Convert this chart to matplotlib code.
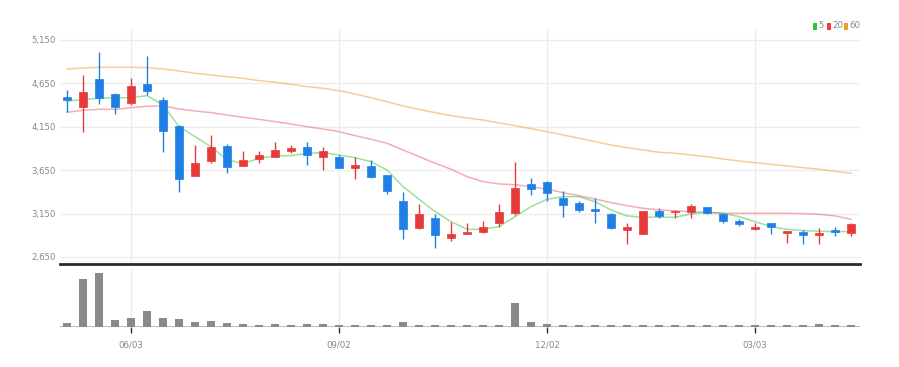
import numpy as np
import matplotlib
matplotlib.use('Agg')
import matplotlib.pyplot as plt
from matplotlib.patches import Rectangle
from matplotlib import font_manager

# narrow font if one is around, else plain sans
narrow = None
for f in font_manager.fontManager.ttflist:
    if 'Narrow' in f.name or 'Condensed' in f.name:
        narrow = f.name
        break
    if f.stretch in ('condensed', 'semi-condensed') and f.name in ('DejaVu Sans', 'Open Sans', 'Noto Sans'):
        narrow = f.name
        break
if narrow:
    plt.rcParams['font.family'] = [narrow, 'DejaVu Sans']
    plt.rcParams['font.stretch'] = 'condensed'
else:
    plt.rcParams['font.family'] = ['Liberation Sans', 'DejaVu Sans']

# weekly candles (open, high, low, close)
opens  = [4493, 4375, 4701, 4531, 4424, 4647, 4455, 4159, 3583, 3752,
          3933, 3702, 3776, 3806, 3875, 3921, 3806, 3799, 3675, 3698,
          3598, 3295, 2981, 3096, 2873, 2915, 2942, 3046, 3161, 3491,
          3514, 3333, 3269, 3203, 3142, 2965, 2919, 3180, 3165, 3172,
          3222, 3146, 3069, 2973, 3038, 2923, 2935, 2900, 2961, 2931]
highs  = [4571, 4747, 5015, 4540, 4716, 4966, 4497, 4165, 3940, 4052,
          3952, 3875, 3875, 3975, 3940, 3979, 3921, 3829, 3806, 3768,
          3600, 3395, 3261, 3142, 3057, 3046, 3069, 3261, 3748, 3557,
          3520, 3407, 3299, 3326, 3161, 3038, 3180, 3211, 3192, 3257,
          3230, 3161, 3090, 3046, 3046, 2946, 2961, 2981, 3000, 3046]
lows   = [4324, 4094, 4413, 4294, 4401, 4516, 3863, 3402, 3583, 3737,
          3614, 3695, 3730, 3800, 3845, 3710, 3652, 3670, 3549, 3560,
          3376, 2857, 2975, 2750, 2838, 2910, 2923, 3000, 3134, 3364,
          3299, 3115, 3172, 3046, 2969, 2796, 2915, 3096, 3096, 3103,
          3150, 3038, 3010, 2961, 2915, 2815, 2800, 2796, 2892, 2892]
closes = [4455, 4554, 4482, 4378, 4620, 4559, 4105, 3549, 3737, 3917,
          3687, 3771, 3825, 3883, 3902, 3829, 3875, 3675, 3707, 3568,
          3414, 2973, 3146, 2904, 2912, 2942, 3000, 3169, 3442, 3434,
          3384, 3253, 3192, 3180, 2981, 2992, 3177, 3123, 3180, 3241,
          3161, 3069, 3027, 3000, 2992, 2946, 2900, 2927, 2942, 3027]

# volume (thousand shares)
volumes = [44, 490, 547, 74, 94, 160, 94, 80, 47, 64,
           44, 30, 24, 30, 24, 34, 34, 24, 24, 24,
           24, 47, 24, 24, 18, 18, 18, 24, 240, 47,
           34, 24, 18, 24, 24, 24, 24, 18, 18, 18,
           18, 18, 24, 24, 24, 24, 24, 34, 24, 18]

ma5 = [4447, 4462, 4478, 4485, 4485, 4509, 4401, 4151, 4036, 3921,
       3768, 3730, 3785, 3817, 3817, 3845, 3852, 3825, 3794, 3748,
       3652, 3460, 3315, 3172, 3057, 2969, 2969, 3000, 3115, 3230,
       3315, 3345, 3345, 3287, 3192, 3123, 3107, 3110, 3107, 3146,
       3165, 3153, 3115, 3057, 3000, 2969, 2954, 2946, 2942, 2942]
ma20 = [4317, 4340, 4351, 4351, 4370, 4386, 4390, 4355, 4332, 4313,
        4286, 4259, 4236, 4209, 4182, 4151, 4125, 4094, 4048, 4006,
        3960, 3883, 3806, 3730, 3661, 3575, 3518, 3491, 3483, 3460,
        3430, 3391, 3356, 3318, 3276, 3241, 3211, 3192, 3180, 3172,
        3165, 3153, 3153, 3153, 3153, 3153, 3150, 3142, 3123, 3084]
ma60 = [4816, 4827, 4835, 4835, 4835, 4831, 4816, 4793, 4766, 4747,
        4727, 4709, 4681, 4663, 4640, 4612, 4593, 4566, 4528, 4485,
        4439, 4390, 4351, 4313, 4278, 4251, 4228, 4194, 4163, 4128,
        4094, 4056, 4018, 3979, 3940, 3909, 3883, 3856, 3845, 3825,
        3806, 3779, 3756, 3737, 3718, 3698, 3679, 3661, 3637, 3614]

tick_idx = [4, 17, 30, 43]
tick_labels = ['06/03', '09/02', '12/02', '03/03']
price_ticks = [2650, 3150, 3650, 4150, 4650, 5150]

upColor = '#e8393a'
downColor = '#1f7fe6'
maColors = {'5': '#2fc43f', '20': '#ee3b45', '60': '#f39a2a'}
labelSize = 6.8 if narrow else 6.3

W, H = 899, 367
fig = plt.figure(figsize=(W / 100, H / 100), dpi=100)

def px_axes(x0, y0, x1, y1):
    return fig.add_axes([x0 / W, 1 - y1 / H, (x1 - x0) / W, (y1 - y0) / H])

ax = px_axes(60, 30, 860, 264)
axv = px_axes(60, 268, 860, 327)

x = np.arange(len(closes))
xlim = (-0.44, len(closes) - 0.44)

# moving averages
ax.plot(x, ma60, color=maColors['60'], alpha=0.5, lw=1.1, zorder=2)
ax.plot(x, ma20, color=maColors['20'], alpha=0.42, lw=1.1, zorder=2)
ax.plot(x, ma5, color=maColors['5'], alpha=0.5, lw=1.1, zorder=2)

# candles
for i in range(len(closes)):
    o, h, l, c = opens[i], highs[i], lows[i], closes[i]
    col = upColor if c >= o else downColor
    ax.vlines(i, l, h, color=col, lw=1, zorder=3)
    bottom = min(o, c)
    height = max(abs(c - o), 12)
    ax.add_patch(Rectangle((i - 0.25, bottom), 0.5, height, facecolor=col,
                           edgecolor=col, lw=0.5, zorder=4))

ax.set_xlim(*xlim)
ax.set_ylim(2569, 5265)
ax.set_yticks(price_ticks)
ax.set_yticklabels(['{:,}'.format(v) for v in price_ticks])
ax.set_xticks(tick_idx)
ax.tick_params(axis='x', length=0, labelbottom=False)
ax.tick_params(axis='y', length=0, labelsize=labelSize, labelcolor='#888888', pad=3)
ax.grid(True, color='#ededed', lw=1)
ax.set_axisbelow(True)
for s in ['top', 'right', 'left']:
    ax.spines[s].set_visible(False)
ax.spines['bottom'].set_color('#2a2a2a')
ax.spines['bottom'].set_linewidth(2)

# volume
axv.bar(x, volumes, width=0.5, color='#8a8a8a', zorder=3)
axv.axhline(0, color='#b5b5b5', lw=2, zorder=2)
axv.set_xlim(*xlim)
axv.set_ylim(0, 600)
axv.set_yticks([])
axv.set_xticks(tick_idx)
axv.set_xticklabels(tick_labels)
axv.tick_params(axis='x', length=4, width=1, color='#333333', labelsize=labelSize,
                labelcolor='#888888', pad=6)
axv.grid(True, axis='x', color='#ededed', lw=1)
axv.set_axisbelow(True)
for s in axv.spines.values():
    s.set_visible(False)

# legend (top right)
legend_items = [('5', 813), ('20', 827), ('60', 844)]
for lab, px in legend_items:
    fig.patches.append(Rectangle((px / W, 1 - 29.5 / H), 3.5 / W, 7 / H,
                                 facecolor=maColors[lab], edgecolor='none',
                                 transform=fig.transFigure, figure=fig))
    fig.text((px + 5) / W, 1 - 26 / H, lab, fontsize=labelSize, color='#888888',
             va='center', ha='left')

fig.savefig('out.png', dpi=100, facecolor='white')
